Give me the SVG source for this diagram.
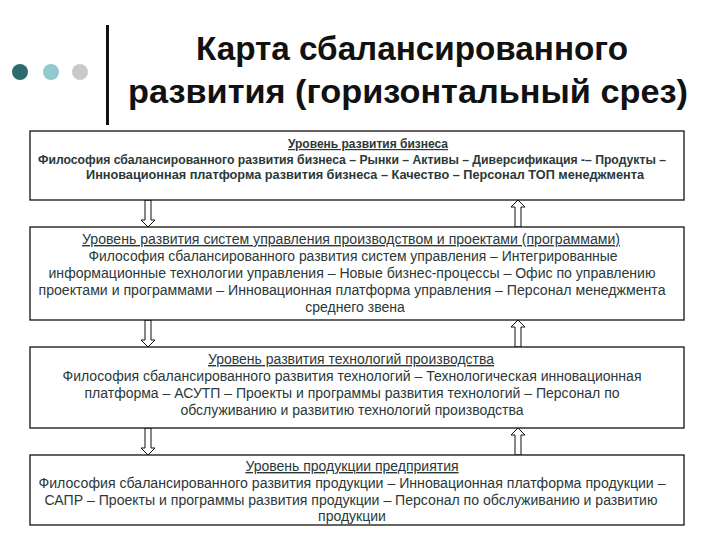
<svg xmlns="http://www.w3.org/2000/svg" width="720" height="540" viewBox="0 0 720 540">
<style>
.title{font-family:"Liberation Sans",Arial,sans-serif;font-size:34px;font-weight:bold;fill:#111;text-anchor:middle}
.box{fill:#fff;stroke:#111;stroke-width:1.3}
.t{font-family:"Liberation Sans",Arial,sans-serif;font-size:14px;fill:#2b3838;text-anchor:middle}
.b1{font-weight:bold;font-size:12px}
.h{text-decoration:underline}
.arr{fill:#fff;stroke:#111;stroke-width:1}
</style>
<defs>
<path id="down" d="M-3,0 V20 H-7 L0,27 L7,20 H3 V0 Z"/>
<path id="up" d="M-3,27 V7 H-7 L0,0 L7,7 H3 V27 Z"/>
</defs>
<rect width="720" height="540" fill="#fff"/>
<g id="decor">
<circle cx="20" cy="72" r="8" fill="#2e6b6e"/>
<circle cx="51" cy="72" r="8" fill="#92c9cf"/>
<circle cx="80" cy="72" r="8" fill="#c9c9c9"/>
<rect x="106" y="25" width="3" height="100" fill="#111"/>
</g>
<g id="title">
<text class="title" x="412" y="60" textLength="432" lengthAdjust="spacingAndGlyphs">Карта сбалансированного</text>
<text class="title" x="408" y="103" textLength="560" lengthAdjust="spacingAndGlyphs">развития (горизонтальный срез)</text>
</g>
<g id="connectors">
<use href="#down" x="148" y="200" class="arr"/>
<use href="#up" x="518" y="200" class="arr"/>
<use href="#down" x="148" y="320" class="arr"/>
<use href="#up" x="518" y="320" class="arr"/>
<use href="#down" x="148" y="428" class="arr"/>
<use href="#up" x="518" y="428" class="arr"/>
</g>
<g id="level1">
<rect class="box" x="30" y="131" width="654" height="69"/>
<text class="t b1 h" x="368" y="148">Уровень развития бизнеса</text>
<text class="t b1" x="352" y="164" textLength="628" lengthAdjust="spacingAndGlyphs">Философия сбалансированного развития бизнеса – Рынки – Активы  – Диверсификация -– Продукты –</text>
<text class="t b1" x="365" y="179" textLength="558" lengthAdjust="spacingAndGlyphs">Инновационная платформа развития бизнеса – Качество – Персонал ТОП менеджмента</text>
</g>
<g id="level2">
<rect class="box" x="30" y="227" width="654" height="93"/>
<text class="t h" x="351" y="244" textLength="538" lengthAdjust="spacingAndGlyphs">Уровень развития систем управления производством и проектами (программами)</text>
<text class="t" x="353" y="261" textLength="529" lengthAdjust="spacingAndGlyphs">Философия сбалансированного развития систем управления – Интегрированные</text>
<text class="t" x="352" y="278" textLength="607" lengthAdjust="spacingAndGlyphs">информационные технологии управления – Новые бизнес-процессы – Офис по управлению</text>
<text class="t" x="352" y="295" textLength="627" lengthAdjust="spacingAndGlyphs">проектами и программами –  Инновационная платформа управления – Персонал менеджмента</text>
<text class="t" x="355" y="312">среднего звена</text>
</g>
<g id="level3">
<rect class="box" x="30" y="347" width="654" height="81"/>
<text class="t h" x="351" y="364">Уровень развития технологий производства</text>
<text class="t" x="352" y="381" textLength="579" lengthAdjust="spacingAndGlyphs">Философия сбалансированного развития технологий – Технологическая инновационная</text>
<text class="t" x="352" y="398" textLength="535" lengthAdjust="spacingAndGlyphs">платформа – АСУТП – Проекты и программы развития технологий – Персонал по</text>
<text class="t" x="352" y="415">обслуживанию и развитию технологий производства</text>
</g>
<g id="level4">
<rect class="box" x="30" y="455" width="654" height="70"/>
<text class="t h" x="352" y="471">Уровень продукции предприятия</text>
<text class="t" x="352" y="488" textLength="627" lengthAdjust="spacingAndGlyphs">Философия сбалансированного развития продукции – Инновационная платформа продукции –</text>
<text class="t" x="351" y="505" textLength="613" lengthAdjust="spacingAndGlyphs">САПР – Проекты и программы развития продукции – Персонал по обслуживанию и развитию</text>
<text class="t" x="352" y="521">продукции</text>
</g>
</svg>
